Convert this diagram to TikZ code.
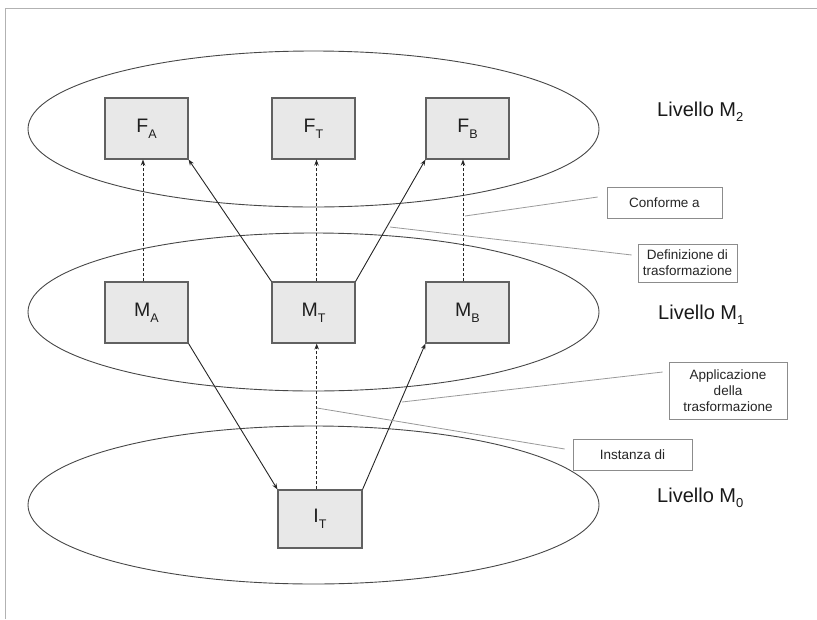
\documentclass[tikz,border=0pt]{standalone}
\usepackage{fontspec}
\setmainfont{Liberation Sans}
\usetikzlibrary{calc,arrows.meta}
% lowered index used in the labels
\newcommand\lowidx[3]{\raisebox{-#2pt}{\fontsize{#1}{#1}\selectfont #3}}
\begin{document}
\begin{tikzpicture}[x=1pt,y=-1pt,
  levelring/.style={draw=black!72, line width=0.9pt},
  modelbox/.style={draw=black!62, line width=1.1pt, fill=black!9,
    minimum width=83pt, minimum height=61pt, inner sep=0pt,
    font=\fontsize{19.5}{19.5}\selectfont, text=black!88},
  note/.style={draw=black!45, line width=0.6pt, fill=white, align=center,
    inner sep=0pt, font=\fontsize{13.5}{16}\selectfont, text=black!85},
  lead/.style={draw=black!40, line width=0.8pt},
  conn/.style={draw=black!85, line width=0.9pt, -{Stealth[length=6pt,width=4.5pt]}},
  dconn/.style={conn, dash pattern=on 3pt off 2pt},
  lvl/.style={anchor=base west, font=\fontsize{20}{20}\selectfont, inner sep=0pt, text=black!90}
]
\useasboundingbox (0,0) rectangle (817,619);

% outer frame
\draw[black!30, line width=1.6pt] (5.3,619) -- (5.3,8.5) -- (817,8.5);

% the three levels
\draw[levelring] (313.5,129) ellipse [x radius=285.5, y radius=78];
\draw[levelring] (313.5,312) ellipse [x radius=285.5, y radius=79];
\draw[levelring] (313.5,505) ellipse [x radius=285.5, y radius=79];

% level names
\node[lvl] (l2) at (657,116) {Livello M\lowidx{13}{5.5}{2}};
\node[lvl] (l1) at (658,319) {Livello M\lowidx{13}{5.5}{1}};
\node[lvl] (l0) at (657,502) {Livello M\lowidx{13}{5.5}{0}};

% models
\node[modelbox] (FA) at (146.5,128.5) {F\lowidx{12.5}{6}{A}};
\node[modelbox] (FT) at (313.5,128.5) {F\lowidx{12.5}{6}{T}};
\node[modelbox] (FB) at (467.5,128.5) {F\lowidx{12.5}{6}{B}};
\node[modelbox] (MA) at (146.5,312.5) {M\lowidx{12.5}{6}{A}};
\node[modelbox] (MT) at (313.5,312.5) {M\lowidx{12.5}{6}{T}};
\node[modelbox] (MB) at (467.5,312.5) {M\lowidx{12.5}{6}{B}};
\node[modelbox, minimum width=84pt, minimum height=58pt] (IT) at (320,519) {I\lowidx{12.5}{6}{T}};

% conformance (dashed)
\draw[dconn] ([xshift=-3.5pt]MA.north) -- ([xshift=-3.5pt]FA.south);
\draw[dconn] ([xshift=3pt]MT.north) -- ([xshift=3pt]FT.south);
\draw[dconn] ([xshift=-4.5pt]MB.north) -- ([xshift=-4.5pt]FB.south);
\draw[dconn] ([xshift=-3.3pt]IT.north) -- ([xshift=3.2pt]MT.south);

% transformation definition and application
\draw[conn] (MT.north west) -- (FA.south east);
\draw[conn] (MT.north east) -- (FB.south west);
\draw[conn] (MA.south east) -- (IT.north west);
\draw[conn] (IT.north east) -- (MB.south west);

% callouts
\node[note, minimum width=115pt, minimum height=31pt] (conf) at (664.5,202.5) {Conforme a};
\node[note, minimum width=99pt, minimum height=38pt] (defn) at (687.5,263) {Definizione di\\trasformazione};
\node[note, minimum width=118pt, minimum height=57pt] (appl) at (728,390.5) {Applicazione\\della\\trasformazione};
\node[note, minimum width=119pt, minimum height=31pt] (inst) at (632.5,454.5) {Instanza di};

\coordinate (pconf) at (465,216);
\coordinate (pdefn) at (390,227);
\coordinate (pappl) at (402,402);
\coordinate (pinst) at (317,408);

\draw[lead] ([xshift=-9pt,yshift=5.5pt]conf.west) -- (pconf);
\draw[lead] ([xshift=-6pt,yshift=8pt]defn.west) -- (pdefn);
\draw[lead] ([xshift=-6pt,yshift=18.5pt]appl.west) -- (pappl);
\draw[lead] ([xshift=-8pt,yshift=5.5pt]inst.west) -- (pinst);
\end{tikzpicture}
\end{document}
